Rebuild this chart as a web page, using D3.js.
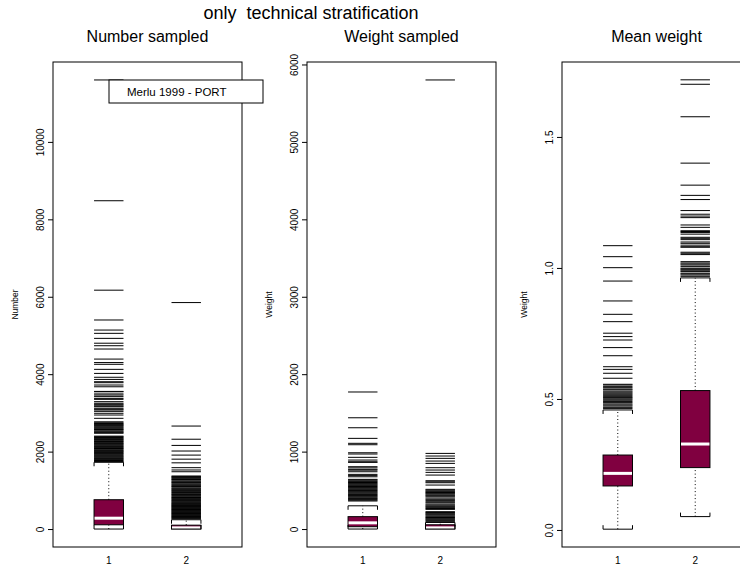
<!DOCTYPE html>
<html>
<head>
<meta charset="utf-8">
<script src="https://cdnjs.cloudflare.com/ajax/libs/d3/7.8.5/d3.min.js"></script>
<style>
body{margin:0;background:#fff;}
svg{display:block;font-family:"Liberation Sans",Arial,Helvetica,sans-serif;}
</style>
</head>
<body>
<div id="chart"></div>
<script>
var groups = ["1", "2"];

// box stats per group : [lower whisker, Q1, median, Q3, upper whisker]
var numberStats = [[0, 110, 280, 757, 1725], [0, 0, 30, 100, 240]];
var weightStats = [[0, 30, 80, 160, 300], [0, 0, 15, 55, 85]];
var meanStats = [[0.003, 0.168, 0.216, 0.286, 0.458], [0.051, 0.238, 0.328, 0.532, 0.962]];

// outliers
var numberOut1 = [11600, 8480, 6170, 5400, 5140, 5055, 4925, 4800, 4735, 4650, 4390, 4300, 4255, 4125, 4020, 3920, 3865, 3805, 3780, 3720, 3675, 3555, 3545, 3490, 3460, 3420, 3375, 3350, 3290, 3250, 3225, 3205, 3180, 3160, 3120, 3095, 3075, 3040, 2990, 2945, 2860, 2770, 2745, 2725, 2705, 2690, 2670, 2655, 2630, 2610, 2590, 2570, 2555, 2530, 2510, 2490, 2475, 2400, 2385, 2365, 2345, 2330, 2310, 2295, 2275, 2260, 2240, 2220, 2205, 2190, 2170, 2150, 2135, 2115, 2100, 2080, 2065, 2045, 2025, 2010, 1995, 1975, 1955, 1940, 1920, 1895, 1880, 1860, 1840, 1825, 1805, 1790, 1770, 1750, 1740];
var numberOut2 = [5850, 2660, 2320, 2160, 2015, 1910, 1805, 1710, 1585, 1525, 1480, 1370, 1355, 1335, 1320, 1300, 1280, 1265, 1240, 1220, 1200, 1185, 1160, 1140, 1120, 1100, 1085, 1060, 1040, 1025, 1000, 985, 965, 945, 925, 905, 890, 870, 850, 830, 815, 795, 780, 760, 740, 725, 705, 690, 670, 655, 640, 625, 610, 595, 580, 565, 550, 535, 520, 505, 490, 475, 460, 445, 430, 415, 400, 385, 370, 355, 340, 325, 310, 295, 280, 265];
var weightOut1 = [1770, 1437, 1308, 1171, 1107, 1089, 985, 969, 926, 891, 869, 861, 805, 790, 771, 760, 740, 706, 690, 675, 642, 633, 622, 612, 601, 590, 580, 570, 560, 549, 538, 528, 518, 508, 497, 487, 476, 466, 455, 445, 434, 424, 414, 403, 393, 383, 372, 362];
var weightOut2 = [5800, 977, 943, 913, 878, 848, 792, 762, 732, 697, 624, 610, 598, 568, 513, 503, 492, 482, 472, 462, 452, 440, 430, 417, 400, 384, 370, 353, 340, 323, 310, 298, 288, 276, 265, 254, 224, 214, 204, 194, 184, 171, 159, 149, 139, 129, 119, 108, 95];
var meanOut1 = [1.085, 1.043, 1.001, 0.950, 0.874, 0.823, 0.795, 0.751, 0.738, 0.725, 0.696, 0.665, 0.623, 0.613, 0.598, 0.579, 0.556, 0.553, 0.547, 0.543, 0.538, 0.535, 0.530, 0.526, 0.522, 0.518, 0.514, 0.510, 0.506, 0.503, 0.499, 0.495, 0.490, 0.486, 0.481, 0.477, 0.473, 0.468, 0.464];
var meanOut2 = [1.718, 1.701, 1.577, 1.400, 1.316, 1.277, 1.261, 1.219, 1.205, 1.198, 1.192, 1.164, 1.155, 1.142, 1.139, 1.135, 1.129, 1.117, 1.113, 1.108, 1.099, 1.094, 1.087, 1.081, 1.079, 1.060, 1.056, 1.051, 1.024, 1.019, 1.015, 1.011, 1.005, 0.999, 0.996, 0.993, 0.989, 0.986, 0.980, 0.977, 0.973, 0.968];

var numberTicks = [0, 2000, 4000, 6000, 8000, 10000];
var weightTicks = [0, 1000, 2000, 3000, 4000, 5000, 6000];
var meanTicks = [0, 0.5, 1, 1.5];

var mainTitle = "only  technical stratification";
var legendText = "Merlu 1999 - PORT";

var width = 740, height = 570;
var plotTop = 62, plotBottom = 547, plotW = 189;
var boxFill = "#800040";
var boxW = 0.38;

var svg = d3.select("#chart").append("svg")
    .attr("width", width)
    .attr("height", height);

var panels = [
    {left: 53, title: "Number sampled", ylab: "Number", domain: [-464, 12064], ticks: numberTicks, fmt: d3.format("d"), stats: numberStats, out: [numberOut1, numberOut2]},
    {left: 307, title: "Weight sampled", ylab: "Weight", domain: [-232, 6032], ticks: weightTicks, fmt: d3.format("d"), stats: weightStats, out: [weightOut1, weightOut2]},
    {left: 562, title: "Mean weight", ylab: "Weight", domain: [-0.065, 1.786], ticks: meanTicks, fmt: d3.format(".1f"), stats: meanStats, out: [meanOut1, meanOut2]}
];

function drawPanel(p){
    var x = d3.scaleLinear().domain([0.28, 2.72]).range([p.left, p.left + plotW]);
    var y = d3.scaleLinear().domain(p.domain).range([plotBottom, plotTop]);
    var g = svg.append("g");

    g.append("text")
        .attr("x", p.left + plotW / 2)
        .attr("y", 42)
        .attr("text-anchor", "middle")
        .attr("font-size", 16)
        .text(p.title);

    // y axis, labels turned like R does
    var axg = g.append("g")
        .attr("transform", "translate(" + p.left + ",0)")
        .call(d3.axisLeft(y).tickValues(p.ticks).tickSize(5).tickFormat(p.fmt));
    axg.attr("font-family", null).attr("font-size", 10);
    axg.select(".domain").remove();
    axg.selectAll(".tick text")
        .attr("x", 0).attr("dy", 0)
        .attr("text-anchor", "middle")
        .attr("transform", "translate(-9,0) rotate(-90)");

    g.append("text")
        .attr("transform", "translate(" + (p.left - 35) + "," + ((plotTop + plotBottom) / 2) + ") rotate(-90)")
        .attr("text-anchor", "middle")
        .attr("font-size", 8.5)
        .text(p.ylab);

    g.selectAll(".xlab").data(groups).enter().append("text")
        .attr("class", "xlab")
        .attr("x", function(d, i){ return x(i + 1); })
        .attr("y", 564)
        .attr("text-anchor", "middle")
        .attr("font-size", 10)
        .text(function(d){ return d; });

    p.stats.forEach(function(s, i){
        var cx = x(i + 1), x0 = x(i + 1 - boxW / 2), x1 = x(i + 1 + boxW / 2);
        // whiskers
        [[s[0], s[1]], [s[3], s[4]]].forEach(function(w){
            g.append("line")
                .attr("x1", cx).attr("x2", cx)
                .attr("y1", y(w[0])).attr("y2", y(w[1]))
                .attr("stroke", "#000")
                .attr("stroke-dasharray", "1,2.5");
        });
        g.append("rect")
            .attr("x", x0).attr("y", y(s[3]))
            .attr("width", x1 - x0)
            .attr("height", y(s[1]) - y(s[3]))
            .attr("fill", boxFill)
            .attr("stroke", "#000");
        g.append("line")
            .attr("x1", x0 + 0.5).attr("x2", x1 - 0.5)
            .attr("y1", y(s[2])).attr("y2", y(s[2]))
            .attr("stroke", "#fff")
            .attr("stroke-width", 3);
        // staples
        var lo = y(s[0]), hi = y(s[4]);
        g.append("path")
            .attr("d", "M" + x0 + "," + (lo - 4) + "V" + lo + "H" + x1 + "V" + (lo - 4))
            .attr("fill", "none").attr("stroke", "#000");
        g.append("path")
            .attr("d", "M" + x0 + "," + (hi + 4) + "V" + hi + "H" + x1 + "V" + (hi + 4))
            .attr("fill", "none").attr("stroke", "#000");
        // outliers as lines of box width
        g.selectAll(null).data(p.out[i]).enter().append("line")
            .attr("x1", x0).attr("x2", x1)
            .attr("y1", function(d){ return y(d); })
            .attr("y2", function(d){ return y(d); })
            .attr("stroke", "#000");
    });

    g.append("rect")
        .attr("x", p.left).attr("y", plotTop)
        .attr("width", plotW).attr("height", plotBottom - plotTop)
        .attr("fill", "none")
        .attr("stroke", "#000");
}

panels.forEach(drawPanel);

svg.append("text")
    .attr("x", 311)
    .attr("y", 19)
    .attr("text-anchor", "middle")
    .attr("font-size", 18)
    .style("white-space", "pre")
    .text(mainTitle);

// legend box over first panel
var lg = svg.append("g");
lg.append("rect")
    .attr("x", 109).attr("y", 80)
    .attr("width", 154).attr("height", 23)
    .attr("fill", "#fff")
    .attr("stroke", "#000");
lg.append("text")
    .attr("x", 127).attr("y", 96)
    .attr("font-size", 11.5)
    .text(legendText);
</script>
</body>
</html>
